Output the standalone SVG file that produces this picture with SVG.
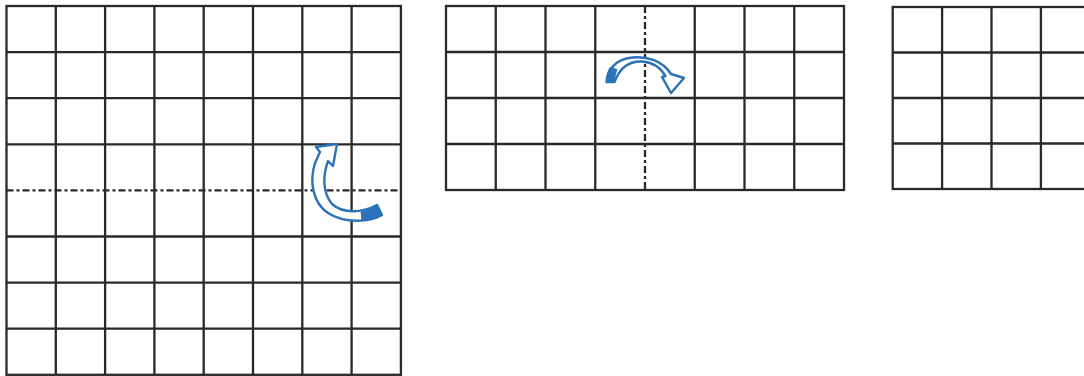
<svg xmlns="http://www.w3.org/2000/svg" width="1084" height="376" viewBox="0 0 1084 376">
<style>
.grid{fill:none;stroke:#2b2829;stroke-width:2.3}
.axis{fill:none;stroke:#2b2829;stroke-width:2.3;stroke-dasharray:7 3 3 3}
.arrow{fill:#fff;stroke:#2b72b8;stroke-width:2.4;stroke-linejoin:round}
.tail{fill:#2b72b8;stroke:#2b72b8;stroke-width:1}
</style>
<rect width="1084" height="376" fill="#fff"/>
<g id="grid1">
<rect class="grid" x="6.5" y="6" width="394.4" height="368.8"/>
<path class="grid" d="M55.8,6V374.8M105.1,6V374.8M154.4,6V374.8M203.7,6V374.8M253,6V374.8M302.3,6V374.8M351.6,6V374.8M6.5,52.1H400.9M6.5,98.2H400.9M6.5,144.3H400.9M6.5,236.5H400.9M6.5,282.6H400.9M6.5,328.7H400.9"/>
<path class="axis" d="M6.5,190.4H400.9"/>
</g>
<g id="grid2">
<rect class="grid" x="446" y="6" width="398" height="184"/>
<path class="grid" d="M495.75,6V190M545.5,6V190M595.25,6V190M694.75,6V190M744.5,6V190M794.25,6V190M446,52H844M446,98H844M446,144H844"/>
<path class="axis" d="M645,6V190"/>
</g>
<g id="grid3">
<rect class="grid" x="892.7" y="7" width="247" height="182"/>
<path class="grid" d="M942.1,7V189M991.5,7V189M1040.9,7V189M892.7,52.5H1140M892.7,98H1140M892.7,143.5H1140"/>
</g>
<g id="connectors">
<g id="arrow1">
<path class="arrow" d="M382,215 C370,222 345,224 328,213 C313,203 309,182 315,163 L320,152 L316,147 L337,144 L333,166 L328,161 C323,175 322,192 332,204 C343,214 362,213 377,205 Z"/>
<path class="tail" d="M382,215 C374,219 366,220 362,219.5 L361,212 C367,211 372,208.5 377,205 Z"/>
</g>
<g id="arrow2">
<path class="arrow" d="M606.5,82 C607,70 616,59 632,57.5 C646,56 662,60 671,74 L684,78 L671,93 L662,77 L665.5,76 C660,67 652,62 642,61.5 C630,61 620,67 614.5,82 Z"/>
<path class="tail" d="M606.5,82 C606.5,76 608,71 610,67.5 L617,69.5 C615,74 614.5,78 614.5,82 Z"/>
</g>
</g>
</svg>
